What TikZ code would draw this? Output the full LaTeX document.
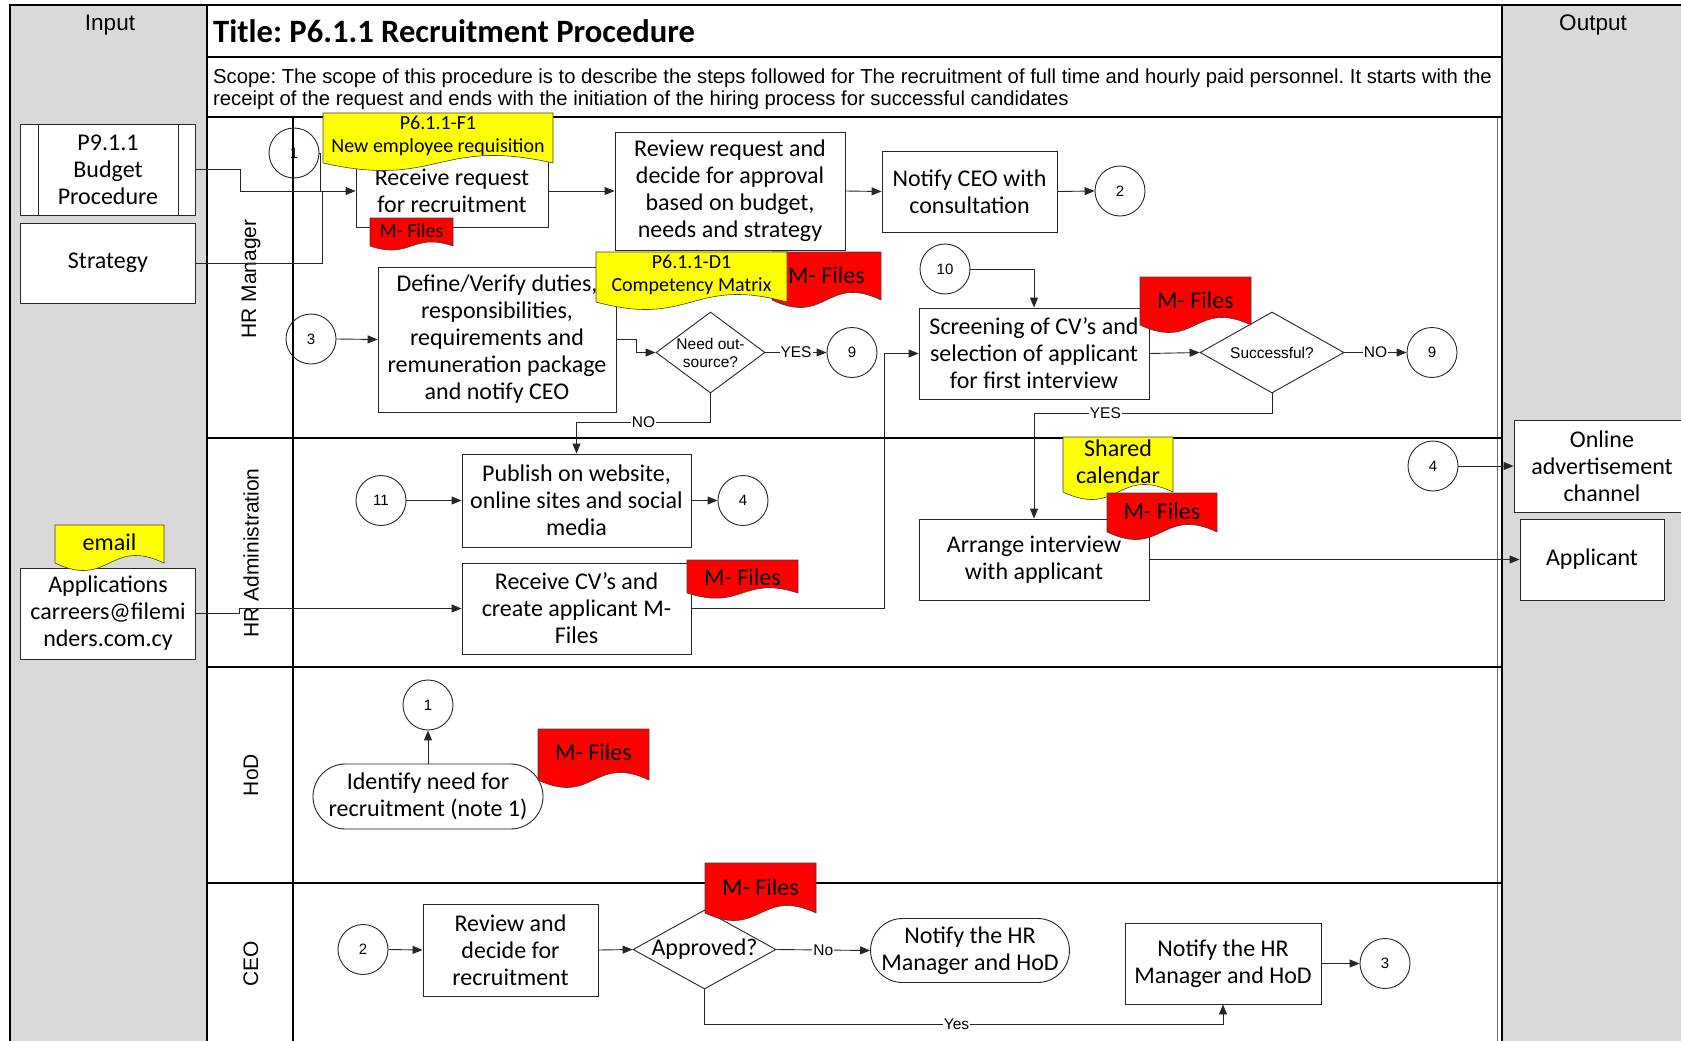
\documentclass[tikz,border=0pt]{standalone}
\usepackage{fontspec}
\setmainfont{Carlito}
\newfontfamily\arialf{Liberation Sans}
\usetikzlibrary{shapes.geometric,shapes.misc,arrows.meta,calc}
\frenchspacing
\definecolor{colgray}{HTML}{D9D9D9}
\definecolor{docyellow}{HTML}{FFFF00}
\definecolor{docred}{HTML}{FF0000}
\newcommand\boxfont{\fontsize{24}{27}\selectfont}
\newcommand\docfont{\fontsize{20}{23}\selectfont}
\newcommand\mffont{\fontsize{24}{27}\selectfont}
\newcommand\mfsmall{\fontsize{20}{23}\selectfont}
\newcommand\lblfont{\arialf\fontsize{15.5}{18}\selectfont}
\newcommand\numfont{\arialf\fontsize{15}{18}\selectfont}
\newcommand\lanefont{\arialf\fontsize{21}{24}\selectfont}
\newcommand\headfont{\arialf\fontsize{22.5}{26}\selectfont}
\newcommand\scopefont{\arialf\fontsize{20.25}{22.5}\selectfont}
\newcommand\titlefont{\bfseries\fontsize{32.6}{38}\selectfont}
\newcommand\decfont{\arialf\fontsize{15.5}{18}\selectfont}
\newcommand\docamp{26}
% #1 fill, #2 name, #3 x1, #4 top, #5 x2, #6 wave base, #7 text y, #8 font, #9 text
\newcommand\docshape[9]{%
  \filldraw[fill=#1, draw=black!75, line width=0.6pt] (#3,#4) -- (#5,#4) -- (#5,#6)
    .. controls ({(#3+#5)/2},{#6-\docamp}) and ({(#3+#5)/2},{#6+\docamp}) .. (#3,#6) -- cycle;
  \node[font=#8, align=center, inner sep=0pt] (#2) at ({(#3+#5)/2},#7) {#9};
}
\begin{document}
\begin{tikzpicture}[x=1pt,y=-1pt,
  box/.style={draw=black!85, fill=white, line width=0.9pt, align=center, inner sep=0pt, font=\boxfont},
  conn/.style={circle, draw=black!85, line width=0.9pt, minimum size=50pt, inner sep=0pt, font=\numfont},
  dec/.style={diamond, draw=black!85, fill=white, line width=0.9pt, inner sep=-2pt, align=center},
  term/.style={rounded rectangle, draw=black!85, fill=white, line width=0.9pt, align=center, inner sep=0pt, font=\boxfont},
  flow/.style={line width=0.9pt, draw=black!85, -{Triangle[length=10pt,width=8pt]}},
  plain/.style={line width=0.9pt, draw=black!85},
  lbl/.style={fill=white, inner sep=1pt, font=\lblfont},
  lane/.style={line width=1.6pt},
]
\useasboundingbox (0,0) rectangle (1681,1041);
% backgrounds and frame
\fill[colgray] (10,5) rectangle (207,1041);
\fill[colgray] (1502,5) rectangle (1681,1041);
\draw[lane] (10,1041) -- (10,5) -- (1681,5);
\draw[lane] (207,5) -- (207,1041);
\draw[lane] (1502,5) -- (1502,1041);
\draw[line width=0.7pt, black!55] (1497,117) -- (1497,1041);
\draw[lane] (207,57) -- (1502,57);
\draw[lane] (207,117) -- (1502,117);
\draw[lane] (207,438) -- (1502,438);
\draw[lane] (207,667) -- (1502,667);
\draw[lane] (207,883) -- (1502,883);
\draw[line width=1.2pt] (293,117) -- (293,1041);

% headers
\node[font=\headfont] (inlbl) at (110,25) {Input};
\node[font=\headfont] (outlbl) at (1593,25) {Output};
\node[font=\titlefont, anchor=west, inner sep=0pt] (title) at (213,31) {Title: P6.1.1 Recruitment Procedure};
\node[font=\scopefont, anchor=west, align=left, inner sep=0pt] (scope) at (213,89.5) {Scope: The scope of this procedure is to describe the steps followed for The recruitment of full time and hourly paid personnel. It starts with the\\receipt of the request and ends with the initiation of the hiring process for successful candidates};

% lane labels
\node[font=\lanefont, rotate=90] (lhrm) at (251,279) {HR Manager};
\node[font=\lanefont, rotate=90] (lhra) at (251,553) {HR Administration};
\node[font=\lanefont, rotate=90] (lhod) at (251,775) {HoD};
\node[font=\lanefont, rotate=90] (lceo) at (251,964) {CEO};

% input boxes
\node[box, minimum width=175, minimum height=91] (budget) at (108,169.5) {P9.1.1\\Budget\\Procedure};
\draw[plain] ([xshift=18pt]budget.north west) -- ([xshift=18pt]budget.south west);
\draw[plain] ([xshift=-18pt]budget.north east) -- ([xshift=-18pt]budget.south east);
\node[box, minimum width=175, minimum height=80] (strategy) at (108,263) {Strategy};
\node[box, minimum width=175, minimum height=91] (apps) at (108,613.5) {Applications\\carreers@filemi\\nders.com.cy};

% output boxes
\node[box, minimum width=176, minimum height=92] (online) at (1602,466) {Online\\advertisement\\channel};
\node[box, minimum width=144, minimum height=81] (applicant) at (1592,559.5) {Applicant};

% HR Manager lane
\node[conn] (c1) at (294,153) {1};
\node[box, minimum width=192, minimum height=72] (receive) at (452,191) {Receive request\\for recruitment};
\node[box, minimum width=230, minimum height=118] (review) at (730,191) {Review request and\\decide for approval\\based on budget,\\needs and strategy};
\node[box, minimum width=175, minimum height=81] (notifyceo) at (969.5,191.5) {Notify CEO with\\consultation};
\node[conn] (c2) at (1120,191) {2};
\node[conn] (c3) at (311,339) {3};
\node[box, minimum width=238, minimum height=145] (define) at (497,339.5) {Define/Verify duties,\\responsibilities,\\requirements and\\remuneration package\\and notify CEO};
\node[dec, aspect=1.35, minimum width=109, minimum height=81, font=\decfont] (nd) at (710.5,352.5) {Need out-\\source?};
\node[conn] (c9a) at (852,352.5) {9};
\node[conn] (c10) at (945,269) {10};
\node[box, minimum width=230, minimum height=91] (screen) at (1034,353.5) {Screening of CV’s and\\selection of applicant\\for first interview};
\node[dec, aspect=1.78, minimum width=144, minimum height=81, font=\decfont] (ds) at (1272,352.5) {Successful?};
\node[conn] (c9b) at (1432,352.5) {9};

% HR Administration lane
\node[conn] (c11) at (381,500.5) {11};
\node[box, minimum width=229, minimum height=93] (publish) at (576.5,500.5) {Publish on website,\\online sites and social\\media};
\node[conn] (c4a) at (743,500.5) {4};
\node[box, minimum width=229, minimum height=91] (receivecv) at (576.5,608.5) {Receive CV’s and\\create applicant M-\\Files};
\node[box, minimum width=230, minimum height=81] (arrange) at (1034,559.5) {Arrange interview\\with applicant};
\node[conn] (c4b) at (1433,466) {4};

% HoD lane
\node[conn] (c1b) at (428,705) {1};
\node[term, minimum width=230, minimum height=65] (identify) at (428,796.5) {Identify need for\\recruitment (note 1)};

% CEO lane
\node[conn] (c2b) at (363,949.5) {2};
\node[box, minimum width=175, minimum height=92] (reviewceo) at (510.5,950) {Review and\\decide for\\recruitment};
\node[dec, aspect=1.81, minimum width=143, minimum height=79, font=\boxfont] (approved) at (704.5,949.5) {Approved?};
\node[term, minimum width=198, minimum height=64] (notifyhr1) at (970,950.5) {Notify the HR\\Manager and HoD};
\node[box, minimum width=196, minimum height=81] (notifyhr2) at (1223,963.5) {Notify the HR\\Manager and HoD};
\node[conn] (c3b) at (1385,963.5) {3};

% connectors
\draw[flow] (budget.east) -- ++(44,0) |- (receive.west);
\draw[plain] (strategy.east) -| ([xshift=-33pt]receive.west);
\draw[plain] (c1.east) -| ([xshift=-35pt]receive.west);
\draw[flow] (receive.east) -- (review.west);
\draw[flow] (review.east) -- (notifyceo.west);
\draw[flow] (notifyceo.east) -- (c2.west);
\draw[flow] (c3.east) -- (define.west);
\draw[flow] (define.east) -- ++(20,0) |- (nd.west);
\draw[flow] (nd.east) -- node[lbl]{YES} (c9a.west);
\draw[flow] (nd.south) -- ++(0,29) -| node[lbl,pos=0.25]{NO} (publish.north);
\draw[flow] (c10.east) -| (screen.north);
\draw[flow] (screen.east) -- (ds.west);
\draw[flow] (ds.east) -- node[lbl]{NO} (c9b.west);
\draw[flow] (ds.south) -- ++(0,20) -| node[lbl,pos=0.35]{YES} (arrange.north);
\draw[flow] (c11.east) -- (publish.west);
\draw[flow] (publish.east) -- (c4a.west);
\draw[flow] (apps.east) -- ++(43,0) |- (receivecv.west);
\draw[flow] (receivecv.east) -| ([xshift=-34pt]screen.west) -- (screen.west);
\draw[flow] (arrange.east) -- (applicant.west);
\draw[flow] (c4b.east) -- (online.west);
\draw[flow] (identify.north) -- (c1b.south);
\draw[flow] (c2b.east) -- (reviewceo.west);
\draw[flow] (reviewceo.east) -- (approved.west);
\draw[flow] (approved.east) -- node[lbl]{No} (notifyhr1.west);
\draw[flow] (approved.south) -- ++(0,35) -| node[lbl,pos=0.243]{Yes} (notifyhr2.south);
\draw[flow] (notifyhr2.east) -- (c3b.west);

% documents
\renewcommand\docamp{14}
\docshape{docred}{mf1}{370}{218}{453}{246}{231}{\mfsmall}{M- Files}
\renewcommand\docamp{26}
\docshape{docyellow}{f1}{323}{113}{553}{163}{135.5}{\docfont}{P6.1.1-F1\\New employee requisition}
\docshape{docred}{mf2}{772}{252}{881}{300}{275}{\mffont}{M- Files}
\docshape{docyellow}{d1}{596}{252}{787}{302}{274.5}{\docfont}{P6.1.1-D1\\Competency Matrix}
\docshape{docred}{mf3}{1140}{277}{1251}{325}{300}{\mffont}{M- Files}
\renewcommand\docamp{18}
\docshape{docred}{mf4}{687}{560}{798}{593}{577}{\mffont}{M- Files}
\renewcommand\docamp{26}
\docshape{docyellow}{cal}{1063}{437}{1173}{492}{461.5}{\mffont}{Shared\\calendar}
\docshape{docred}{mf5}{1107}{493}{1217}{532}{511}{\mffont}{M- Files}
\docshape{docred}{mf6}{538}{729}{649}{780}{752}{\mffont}{M- Files}
\docshape{docred}{mf7}{705}{863}{816}{913}{887}{\mffont}{M- Files}
\docshape{docyellow}{email}{55}{525}{164}{563}{542}{\mffont}{email}
\end{tikzpicture}
\end{document}
